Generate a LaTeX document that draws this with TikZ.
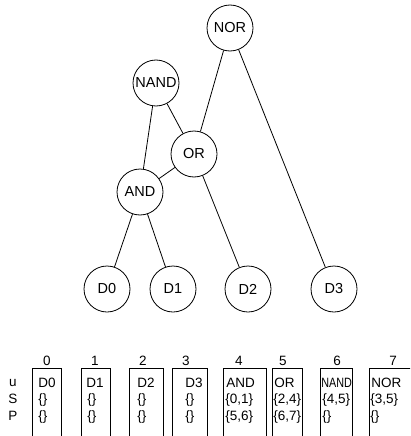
\documentclass[tikz,border=0pt]{standalone}
\usepackage{graphicx}
\usepackage{fontspec}
\setmainfont{Liberation Sans}

\begin{document}
\begin{tikzpicture}[x=1pt, y=-1pt, line width=0.8pt,
  gate/.style={draw, circle, minimum size=46pt, inner sep=0pt, font=\fontsize{14.5}{16}\selectfont},
  cell/.style={anchor=west, inner sep=0pt, font=\fontsize{13.5}{15}\selectfont},
  idx/.style={inner sep=0pt, font=\fontsize{13.5}{15}\selectfont}]

  \useasboundingbox (0,0) rectangle (410,436);
  \clip (0,0) rectangle (410,436);

  % the circuit as a dag
  \node[gate] (nor)  at (230,28)  {NOR};
  \node[gate] (nand) at (156,83)  {NAND};
  \node[gate] (or)   at (194,154) {OR};
  \node[gate] (and)  at (140,192) {AND};
  \node[gate] (d0)   at (107,289) {D0};
  \node[gate] (d1)   at (173,289) {D1};
  \node[gate] (d2)   at (248,289) {D2};
  \node[gate] (d3)   at (334,289) {D3};

  \draw (nor) -- (or);
  \draw (nor) -- (d3);
  \draw (nand) -- (and);
  \draw (nand) -- (or);
  \draw (or) -- (and);
  \draw (or) -- (d2);
  \draw (and) -- (d0);
  \draw (and) -- (d1);

  % array of vertices: u, S, P
  \node[idx] (ru) at (13,383) {u};
  \node[idx] (rs) at (13,399) {S};
  \node[idx] (rp) at (13,416) {P};

  \foreach \l/\r in {32/61, 81/110, 129/163, 172/207, 223/266, 272/302, 320/352, 369/420}
    \draw (\l,440) |- (\r,368) -- (\r,440);

  \node[idx] (i0) at (47,361)  {0};
  \node[idx] (i1) at (95,361)  {1};
  \node[idx] (i2) at (143,361) {2};
  \node[idx] (i3) at (186,361) {3};
  \node[idx] (i4) at (239,361) {4};
  \node[idx] (i5) at (283,361) {5};
  \node[idx] (i6) at (337,361) {6};
  \node[idx] (i7) at (393,361) {7};

  \node[cell] (u0) at (38,383)  {D0};
  \node[cell] (s0) at (38,400)  {\{\}};
  \node[cell] (p0) at (38,417)  {\{\}};
  \node[cell] (u1) at (86,383)  {D1};
  \node[cell] (s1) at (87,400)  {\{\}};
  \node[cell] (p1) at (87,417)  {\{\}};
  \node[cell] (u2) at (137,383) {D2};
  \node[cell] (s2) at (137,400) {\{\}};
  \node[cell] (p2) at (137,417) {\{\}};
  \node[cell] (u3) at (185,383) {D3};
  \node[cell] (s3) at (185,400) {\{\}};
  \node[cell] (p3) at (185,417) {\{\}};
  \node[cell] (u4) at (226,383) {AND};
  \node[cell] (s4) at (225,400) {\{0,1\}};
  \node[cell] (p4) at (225,417) {\{5,6\}};
  \node[cell] (u5) at (274,383) {OR};
  \node[cell] (s5) at (273,400) {\{2,4\}};
  \node[cell] (p5) at (273,417) {\{6,7\}};
  \node[cell] (u6) at (321,383) {\scalebox{0.8}[1]{NAND}};
  \node[cell] (s6) at (322,400) {\{4,5\}};
  \node[cell] (p6) at (322,417) {\{\}};
  \node[cell] (u7) at (371,383) {NOR};
  \node[cell] (s7) at (370,400) {\{3,5\}};
  \node[cell] (p7) at (370,417) {\{\}};

\end{tikzpicture}
\end{document}
